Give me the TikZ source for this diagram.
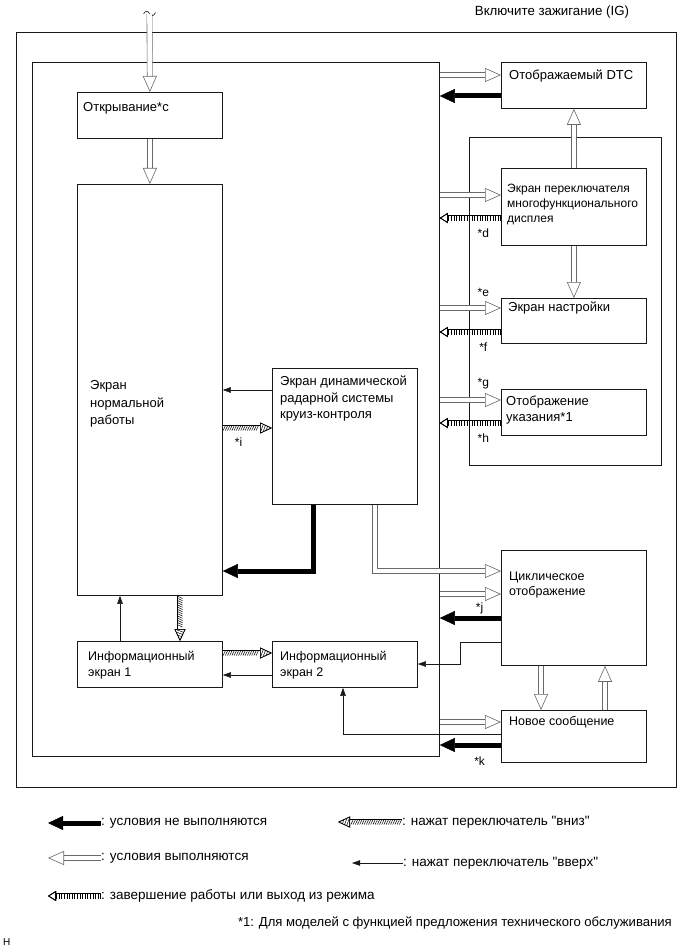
\documentclass[tikz,border=0pt]{standalone}
\usepackage{fontspec}
\setmainfont{Liberation Sans}
\newfontfamily\plainsans{Liberation Sans}
\usepackage{tikz}
\usetikzlibrary{arrows.meta, positioning, calc, decorations.markings}
\definecolor{mydark}{RGB}{25,25,25}
\definecolor{mygray}{RGB}{105,105,105}
\tikzset{
  framebox/.style={rectangle, draw=mydark, line width=0.8pt, inner sep=0pt, anchor=north west},
  box/.style={rectangle, draw=mydark, line width=0.8pt, minimum width=145pt,
    inner sep=0pt, anchor=north west},
  boxtext/.style={anchor=west, align=left, inner sep=0pt,
    font=\fontsize{13}{16.5}\selectfont},
  sidetext/.style={anchor=west, align=left, inner sep=0pt,
    font=\fontsize{12}{15}\selectfont},
  legendtext/.style={anchor=west, inner sep=0pt, font=\plainsans\fontsize{13.5}{16}\selectfont},
  lbl/.style={inner sep=0pt, font=\fontsize{12}{14}\selectfont},
  okarrow/.style={draw=mygray, line width=0.6pt, double=white, double distance=4.6pt,
    -{Triangle[open, length=16pt 0 0, width=14pt 0 0, line width=0.6pt 0 0, color=mygray]}},
  failarrow/.style={draw=black, line width=5pt,
    -{Triangle[length=15pt 0 0, width=14pt 0 0, line width=0.5pt 0 0]}},
  exitarrow/.style={draw=black, line width=6.2pt,
    -{Triangle[open, length=8pt 0 0, width=10pt 0 0, line width=0.6pt 0 0, color=black]},
    postaction={draw=white, line width=5pt},
    postaction={draw=black, line width=5pt, dash pattern=on 0.6pt off 2pt}},
  downhatch/.style={draw=black, line width=6.2pt,
    -{Triangle[open, length=12pt 0 0, width=11pt 0 0, line width=0.6pt 0 0, color=black]},
    postaction={draw=white, line width=5pt},
    postaction={decorate, decoration={markings,
      mark=between positions 1.5pt and -13pt step 2.2pt with
        {\draw[-, line width=0.5pt, black] (-1.2pt,-2.5pt) -- (1.2pt,2.5pt);},
      mark=at position -10pt with
        {\draw[-, line width=0.5pt, black] (-1.4pt,-3.8pt) -- (1.4pt,3.8pt);},
      mark=at position -7.5pt with
        {\draw[-, line width=0.5pt, black] (-1.1pt,-2.8pt) -- (1.1pt,2.8pt);},
      mark=at position -5pt with
        {\draw[-, line width=0.5pt, black] (-0.7pt,-1.8pt) -- (0.7pt,1.8pt);}}}},
  upline/.style={draw=mydark, line width=0.6pt,
    -{Triangle[length=8pt 0 0, width=5.5pt 0 0, line width=0.5pt 0 0]}}
}

\begin{document}
\begin{tikzpicture}[x=1pt, y=-1pt]
  \useasboundingbox (0,0) rectangle (691,952);

  % Frames
  \node[framebox, minimum width=660pt, minimum height=755pt] (outfr) at (16,32) {};
  \node[framebox, minimum width=407pt, minimum height=694pt] (mainfr) at (32,62) {};
  \node[framebox, minimum width=192pt, minimum height=328pt] (subfr) at (469,137) {};
  \node[font=\fontsize{13.3}{15}\selectfont, inner sep=0pt] (ign) at (552,12) {Включите зажигание (IG)};

  % Left column
  \node[box, minimum height=46pt] (opening) at (77,92) {};
  \node[box, minimum height=411pt] (norm) at (77,184) {};
  \node[box, minimum height=136pt] (radar) at (272,368) {};
  \node[box, minimum height=46pt] (info1) at (77,641) {};
  \node[box, minimum height=46pt] (info2) at (272,641) {};
  \node[boxtext] (opening-t) at (83,108) {Открывание*c};
  \node[boxtext, font=\fontsize{13}{17.5}\selectfont] (norm-t) at (90,404) {Экран\\нормальной\\работы};
  \node[boxtext] (radar-t) at (280,399) {Экран динамической\\радарной системы\\круиз-контроля};
  \node[sidetext, font=\fontsize{12.5}{16}\selectfont] (info1-t) at (88,665) {Информационный\\экран 1};
  \node[sidetext, font=\fontsize{12.5}{16}\selectfont] (info2-t) at (280,665) {Информационный\\экран 2};

  % Right column
  \node[box, minimum height=46pt] (dtc) at (501,62) {};
  \node[box, minimum height=77pt] (sw) at (501,168) {};
  \node[box, minimum height=45pt] (setup) at (501,298) {};
  \node[box, minimum height=46pt] (hint) at (501,389) {};
  \node[box, minimum height=115pt] (cyc) at (501,550) {};
  \node[box, minimum height=52pt] (newmsg) at (501,710) {};
  \node[boxtext] (dtc-t) at (509,76) {Отображаемый DTC};
  \node[sidetext] (sw-t) at (507,205) {Экран переключателя\\многофункционального\\дисплея};
  \node[boxtext] (setup-t) at (508,308) {Экран настройки};
  \node[boxtext, font=\fontsize{13}{16}\selectfont] (hint-t) at (506,410) {Отображение\\указания*1};
  \node[sidetext, font=\fontsize{12.5}{15.5}\selectfont] (cyc-t) at (509,585) {Циклическое\\отображение};
  \node[sidetext, font=\fontsize{12.5}{15}\selectfont] (newmsg-t) at (509,722) {Новое сообщение};

  % Entry
  \coordinate (entry) at (149.5,14);
  \draw[mydark, line width=0.6pt] (143.5,14) .. controls (145.5,10.5) and (147.5,10.5) .. (149.5,13.5)
    .. controls (151.5,16.5) and (153.5,16.5) .. (155.5,12.5);
  \draw[okarrow] (entry) -- (opening.north);
  \draw[okarrow] (opening.south) -- (norm.north);

  % Right column transitions
  \draw[okarrow] (mainfr.east |- 0,75) -- (dtc.west |- 0,75);
  \draw[failarrow] (dtc.west |- 0,96) -- (mainfr.east |- 0,96);
  \draw[okarrow] (sw.north) -- (dtc.south);
  \draw[okarrow] (mainfr.east |- 0,195) -- (sw.west |- 0,195);
  \draw[exitarrow] (sw.west |- 0,218) -- (mainfr.east |- 0,218)
    node[lbl, pos=0.29, below=8pt] (tag-d) {*d};
  \draw[okarrow] (sw.south) -- (setup.north);
  \draw[okarrow] (mainfr.east |- 0,308) -- (setup.west |- 0,308)
    node[lbl, pos=0.71, above=11pt] (tag-e) {*e};
  \draw[exitarrow] (setup.west |- 0,332) -- (mainfr.east |- 0,332)
    node[lbl, pos=0.29, below=8pt] (tag-f) {*f};
  \draw[okarrow] (mainfr.east |- 0,400) -- (hint.west |- 0,400)
    node[lbl, pos=0.71, above=11pt] (tag-g) {*g};
  \draw[exitarrow] (hint.west |- 0,423) -- (mainfr.east |- 0,423)
    node[lbl, pos=0.29, below=8pt] (tag-h) {*h};

  % Cruise control screen
  \draw[upline] (radar.west |- 0,390) -- (norm.east |- 0,390);
  \draw[downhatch] (norm.east |- 0,428) -- (radar.west |- 0,428)
    node[lbl, pos=0.32, below=7pt] (tag-i) {*i};
  \draw[failarrow] (radar.south -| 313,0) |- (norm.east |- 0,571);
  \draw[okarrow] (radar.south -| 375,0) |- (cyc.west |- 0,571);

  % Cyclic display and new message
  \draw[okarrow] (mainfr.east |- 0,594) -- (cyc.west |- 0,594)
    node[lbl, pos=0.65, below=8pt] (tag-j) {*j};
  \draw[failarrow] (cyc.west |- 0,618) -- (mainfr.east |- 0,618);
  \draw[upline] (cyc.west |- 0,642) -- ++(-41,0) |- (info2.east |- 0,664);
  \draw[okarrow] (cyc.south -| 541,0) -- (newmsg.north -| 541,0);
  \draw[okarrow] (newmsg.north -| 605,0) -- (cyc.south -| 605,0);
  \draw[okarrow] (mainfr.east |- 0,722) -- (newmsg.west |- 0,722);
  \draw[upline] (newmsg.west |- 0,734) -| (info2.south -| 343,0);
  \draw[failarrow] (newmsg.west |- 0,745) -- (mainfr.east |- 0,745)
    node[lbl, pos=0.35, below=9pt] (tag-k) {*k};

  % Information screens
  \draw[downhatch] (norm.south -| 180,0) -- (info1.north -| 180,0);
  \draw[upline] (info1.north -| 120,0) -- (norm.south -| 120,0);
  \draw[downhatch] (info1.east |- 0,653) -- (info2.west |- 0,653);
  \draw[upline] (info2.west |- 0,675) -- (info1.east |- 0,675);

  % Legend
  \coordinate (lg-fail) at (48,823);
  \coordinate (lg-ok) at (48,858);
  \coordinate (lg-exit) at (48,896);
  \coordinate (lg-down) at (338,822);
  \coordinate (lg-up) at (352,863);
  \node[legendtext] (lg-fail-t) at (101,823) {: условия не выполняются};
  \node[legendtext] (lg-ok-t) at (101,858) {: условия выполняются};
  \node[legendtext] (lg-exit-t) at (101,896) {: завершение работы или выход из режима};
  \node[legendtext] (lg-down-t) at (402,822) {: нажат переключатель "вниз"};
  \node[legendtext] (lg-up-t) at (403,863) {: нажат переключатель "вверх"};
  \draw[failarrow] (lg-fail-t.west) -- (lg-fail);
  \draw[okarrow] (lg-ok-t.west) -- (lg-ok);
  \draw[exitarrow] (lg-exit-t.west) -- (lg-exit);
  \draw[downhatch] (lg-down-t.west) -- (lg-down);
  \draw[upline] (lg-up-t.west) -- (lg-up);
  \node[legendtext, anchor=east, font=\plainsans\fontsize{13.1}{15}\selectfont] (note) at (672,923) {*1: Для моделей с функцией предложения технического обслуживания};
  \node[legendtext, font=\plainsans\fontsize{10}{11}\selectfont] (corner) at (3,942) {H};
\end{tikzpicture}
\end{document}
